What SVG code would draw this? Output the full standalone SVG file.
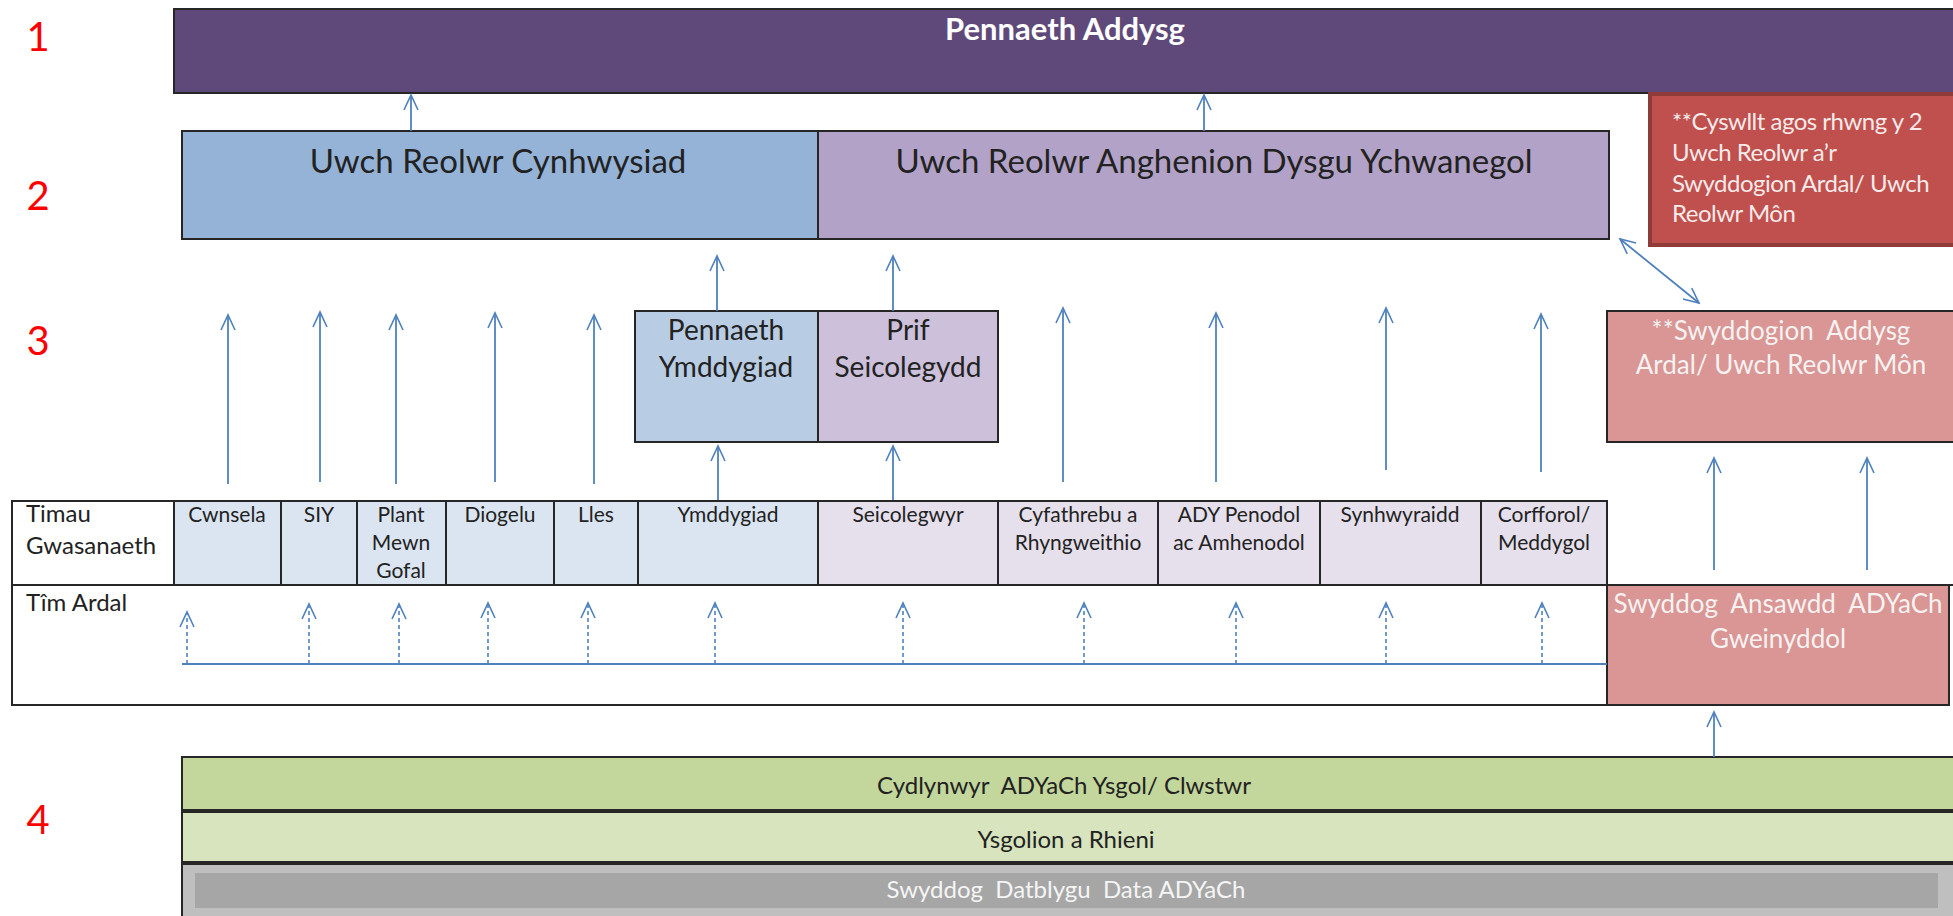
<svg xmlns="http://www.w3.org/2000/svg" width="1953" height="916" viewBox="0 0 1953 916">
<style>
text{font-family:Lato,"Liberation Sans",sans-serif;fill:#222}
.num{font-size:40px;fill:#ff0000;text-anchor:middle}
.bx{stroke:#262626;stroke-width:2}
.big{font-size:33px;text-anchor:middle}
.mid{font-size:28px;text-anchor:middle}
.cell{font-size:21px;text-anchor:middle}
.lab{font-size:24px}
.pk{font-size:26px;text-anchor:middle;fill:#f7f2f2}
.bot{font-size:24px;text-anchor:middle}
.ar{stroke:#4f81bd;stroke-width:1.8;fill:none;marker-end:url(#ah)}
.da{stroke:#4f81bd;stroke-width:1.6;fill:none;stroke-dasharray:4 3;marker-end:url(#ah)}
</style>
<defs>
<marker id="ah" markerUnits="userSpaceOnUse" markerWidth="20" markerHeight="20" viewBox="-17 -10 20 20" refX="0" refY="0" orient="auto-start-reverse">
<path d="M-15,-7 L0,0 L-15,7" fill="none" stroke="#4f81bd" stroke-width="1.6"/>
</marker>
</defs>
<rect width="1953" height="916" fill="#ffffff"/>

<g id="levels">
<text class="num" x="38" y="51">1</text>
<text class="num" x="38" y="210">2</text>
<text class="num" x="38" y="355">3</text>
<text class="num" x="38" y="834">4</text>
</g>

<g id="pennaeth-addysg">
<rect class="bx" x="174" y="9" width="1790" height="84" fill="#5f497a"/>
<text x="1065" y="40" style="font-size:31px;font-weight:bold;fill:#ffffff;text-anchor:middle">Pennaeth Addysg</text>
</g>

<g id="uwch-cynhwysiad">
<rect class="bx" x="182" y="131" width="636" height="108" fill="#95b3d7"/>
<text class="big" x="498" y="173">Uwch Reolwr Cynhwysiad</text>
</g>

<g id="uwch-ady">
<rect class="bx" x="818" y="131" width="791" height="108" fill="#b2a2c7"/>
<text class="big" x="1214" y="173">Uwch Reolwr Anghenion Dysgu Ychwanegol</text>
</g>

<g id="cyswllt">
<rect x="1650" y="94" width="310" height="151" fill="#c0504d" stroke="#8e3b39" stroke-width="4"/>
<g style="font-size:24px;letter-spacing:-0.5px">
<text x="1672" y="130" style="fill:#f7eaea">**Cyswllt agos rhwng y 2</text>
<text x="1672" y="161" style="fill:#f7eaea">Uwch Reolwr a’r</text>
<text x="1672" y="192" style="fill:#f7eaea">Swyddogion Ardal/ Uwch</text>
<text x="1672" y="222" style="fill:#f7eaea">Reolwr Môn</text>
</g>
</g>

<g id="pennaeth-ymddygiad">
<rect class="bx" x="635" y="311" width="183" height="131" fill="#b8cce4"/>
<text class="mid" x="726" y="340">Pennaeth</text>
<text class="mid" x="726" y="377">Ymddygiad</text>
</g>

<g id="prif-seicolegydd">
<rect class="bx" x="818" y="311" width="180" height="131" fill="#ccc0da"/>
<text class="mid" x="908" y="340">Prif</text>
<text class="mid" x="908" y="377">Seicolegydd</text>
</g>

<g id="swyddogion-ardal">
<rect class="bx" x="1607" y="311" width="360" height="131" fill="#d99694"/>
<text class="pk" x="1781" y="340" xml:space="preserve">**Swyddogion  Addysg</text>
<text class="pk" x="1781" y="374">Ardal/ Uwch Reolwr Môn</text>
</g>

<g id="timau-gwasanaeth">
<rect class="bx" x="12" y="501" width="162" height="84" fill="#ffffff"/>
<text class="lab" x="26" y="522">Timau</text>
<text class="lab" x="26" y="554">Gwasanaeth</text>
</g>

<g id="cell-cwnsela"><rect class="bx" x="174" y="501" width="107" height="84" fill="#dbe5f1"/><text class="cell" x="227" y="522">Cwnsela</text></g>
<g id="cell-siy"><rect class="bx" x="281" y="501" width="76" height="84" fill="#dbe5f1"/><text class="cell" x="319" y="522">SIY</text></g>
<g id="cell-plant"><rect class="bx" x="357" y="501" width="89" height="84" fill="#dbe5f1"/><text class="cell" x="401" y="522">Plant</text><text class="cell" x="401" y="550">Mewn</text><text class="cell" x="401" y="578">Gofal</text></g>
<g id="cell-diogelu"><rect class="bx" x="446" y="501" width="108" height="84" fill="#dbe5f1"/><text class="cell" x="500" y="522">Diogelu</text></g>
<g id="cell-lles"><rect class="bx" x="554" y="501" width="84" height="84" fill="#dbe5f1"/><text class="cell" x="596" y="522">Lles</text></g>
<g id="cell-ymddygiad"><rect class="bx" x="638" y="501" width="180" height="84" fill="#dbe5f1"/><text class="cell" x="728" y="522">Ymddygiad</text></g>
<g id="cell-seicolegwyr"><rect class="bx" x="818" y="501" width="180" height="84" fill="#e5e0ec"/><text class="cell" x="908" y="522">Seicolegwyr</text></g>
<g id="cell-cyfathrebu"><rect class="bx" x="998" y="501" width="160" height="84" fill="#e5e0ec"/><text class="cell" x="1078" y="522">Cyfathrebu a</text><text class="cell" x="1078" y="550">Rhyngweithio</text></g>
<g id="cell-ady"><rect class="bx" x="1158" y="501" width="162" height="84" fill="#e5e0ec"/><text class="cell" x="1239" y="522">ADY Penodol</text><text class="cell" x="1239" y="550">ac Amhenodol</text></g>
<g id="cell-synhwyraidd"><rect class="bx" x="1320" y="501" width="161" height="84" fill="#e5e0ec"/><text class="cell" x="1400" y="522">Synhwyraidd</text></g>
<g id="cell-corfforol"><rect class="bx" x="1481" y="501" width="126" height="84" fill="#e5e0ec"/><text class="cell" x="1544" y="522">Corfforol/</text><text class="cell" x="1544" y="550">Meddygol</text></g>

<g id="tim-ardal">
<rect class="bx" x="12" y="585" width="1595" height="120" fill="#ffffff"/>
<line x1="1607" y1="585" x2="1953" y2="585" stroke="#262626" stroke-width="2"/>
<text class="lab" x="26" y="611">Tîm Ardal</text>
</g>

<g id="swyddog-ansawdd">
<rect class="bx" x="1607" y="585" width="342" height="120" fill="#d99694"/>
<text class="pk" x="1778" y="613" xml:space="preserve">Swyddog  Ansawdd  ADYaCh</text>
<text class="pk" x="1778" y="648">Gweinyddol</text>
</g>

<g id="cydlynwyr">
<rect class="bx" x="182" y="757" width="1780" height="53" fill="#c3d69b"/>
<text class="bot" x="1064" y="794" xml:space="preserve">Cydlynwyr  ADYaCh Ysgol/ Clwstwr</text>
</g>

<g id="ysgolion">
<rect class="bx" x="182" y="812" width="1780" height="50" fill="#d7e4bd"/>
<text class="bot" x="1066" y="848">Ysgolion a Rhieni</text>
</g>

<g id="swyddog-data">
<rect class="bx" x="182" y="864" width="1780" height="60" fill="#bfbfbf"/>
<rect x="195" y="873" width="1743" height="35" fill="#a6a6a6"/>
<text class="bot" x="1066" y="898" style="fill:#f5f5f5" xml:space="preserve">Swyddog  Datblygu  Data ADYaCh</text>
</g>

<g id="connectors">
<line class="ar" x1="411" y1="131" x2="411" y2="95"/>
<line class="ar" x1="1204" y1="131" x2="1204" y2="95"/>
<line class="ar" x1="717" y1="311" x2="717" y2="256"/>
<line class="ar" x1="893" y1="311" x2="893" y2="256"/>
<line class="ar" x1="718" y1="500" x2="718" y2="446"/>
<line class="ar" x1="893" y1="500" x2="893" y2="446"/>
<line class="ar" x1="228" y1="484" x2="228" y2="315"/>
<line class="ar" x1="320" y1="482" x2="320" y2="312"/>
<line class="ar" x1="396" y1="484" x2="396" y2="315"/>
<line class="ar" x1="495" y1="482" x2="495" y2="313"/>
<line class="ar" x1="594" y1="484" x2="594" y2="315"/>
<line class="ar" x1="1063" y1="482" x2="1063" y2="308"/>
<line class="ar" x1="1216" y1="482" x2="1216" y2="313"/>
<line class="ar" x1="1386" y1="470" x2="1386" y2="308"/>
<line class="ar" x1="1541" y1="472" x2="1541" y2="314"/>
<line class="ar" x1="1714" y1="570" x2="1714" y2="458"/>
<line class="ar" x1="1867" y1="570" x2="1867" y2="458"/>
<line class="ar" x1="1714" y1="757" x2="1714" y2="712"/>
<line class="ar" x1="1620" y1="239" x2="1699" y2="303" style="marker-start:url(#ah)"/>
<line x1="182" y1="664" x2="1607" y2="664" stroke="#4f81bd" stroke-width="2"/>
<line class="da" x1="187" y1="664" x2="187" y2="612"/>
<line class="da" x1="309" y1="664" x2="309" y2="604"/>
<line class="da" x1="399" y1="664" x2="399" y2="604"/>
<line class="da" x1="488" y1="664" x2="488" y2="603"/>
<line class="da" x1="588" y1="664" x2="588" y2="603"/>
<line class="da" x1="715" y1="664" x2="715" y2="603"/>
<line class="da" x1="903" y1="664" x2="903" y2="603"/>
<line class="da" x1="1084" y1="664" x2="1084" y2="603"/>
<line class="da" x1="1236" y1="664" x2="1236" y2="603"/>
<line class="da" x1="1386" y1="664" x2="1386" y2="603"/>
<line class="da" x1="1542" y1="664" x2="1542" y2="603"/>
</g>
</svg>
